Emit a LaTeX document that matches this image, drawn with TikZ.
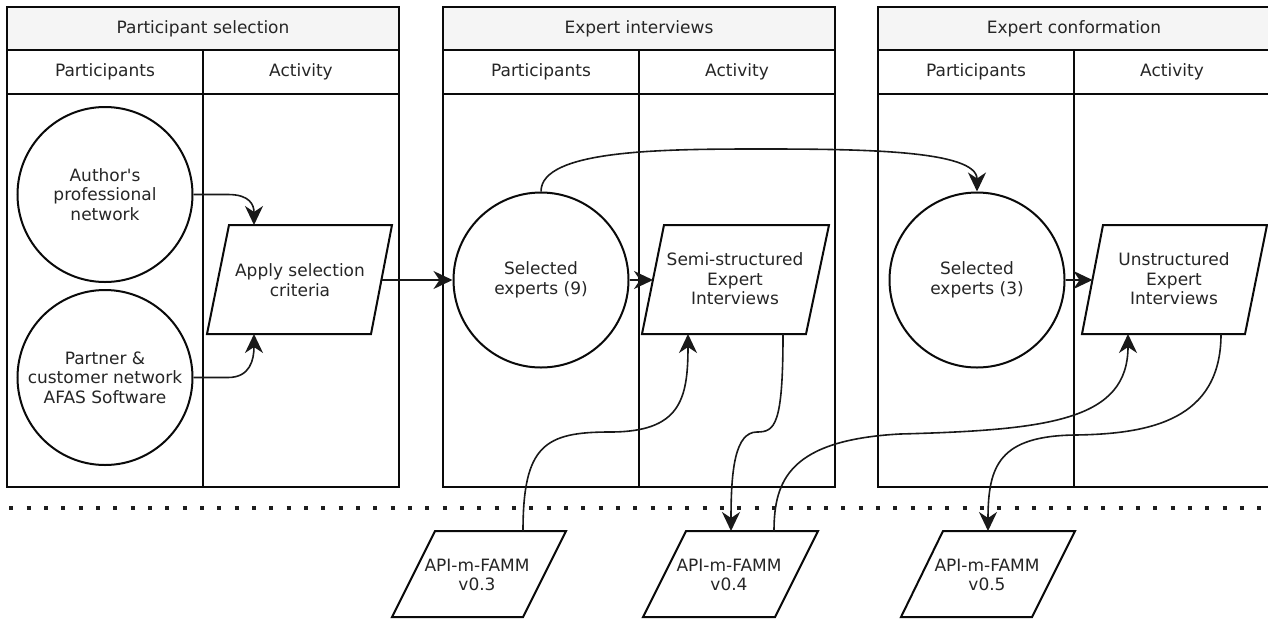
\documentclass[tikz,border=0pt]{standalone}
\usepackage{fontspec}
\setmainfont{DejaVu Sans}
\usetikzlibrary{arrows.meta,calc}
\definecolor{txt}{RGB}{38,38,38}
\definecolor{hdr}{RGB}{245,245,245}
\definecolor{ln}{RGB}{10,10,10}
\begin{document}
\begin{tikzpicture}[x=1pt,y=-1pt,
  pool/.style={draw=ln, line width=2pt},
  lbl/.style={align=center, font=\fontsize{17}{19.5}\selectfont, text=txt, inner sep=0pt},
  circ/.style={circle, draw=ln, line width=2pt, minimum size=175pt, inner sep=0pt, align=center, font=\fontsize{17}{19.5}\selectfont, text=txt},
  para/.style={draw=ln, line width=2pt, fill=white, line join=miter},
  conn/.style={draw={rgb,255:red,25;green,25;blue,25}, line width=1.6pt, -{Stealth[length=19pt,width=18pt,inset=6pt]}},
  dots/.style={draw={rgb,255:red,30;green,30;blue,30}, line width=4pt, dash pattern=on 4pt off 13.33pt}
]
\fill[white] (0,0) rectangle (1268,619);
\useasboundingbox (0,0) rectangle (1268,619);

% pools
\foreach \x/\t/\n in {7/Participant selection/pA, 443/Expert interviews/pB, 878/Expert conformation/pC} {
  \draw[pool, fill=hdr] (\x,7) rectangle ++(392,43);
  \draw[pool] (\x,50) rectangle ++(392,437);
  \draw[pool] (\x,94) -- ++(392,0);
  \draw[pool] (\x+196,50) -- (\x+196,487);
  \node[lbl] (\n title) at (\x+196,28.5) {\t};
  \node[lbl] (\n part) at (\x+98,72) {Participants};
  \node[lbl] (\n act) at (\x+294,72) {Activity};
}

% dotted separator
\coordinate (dotL) at (9.4,507.5);
\coordinate (dotR) at (1268,507.5);
\draw[dots] (dotL) -- (dotR);

% circles
\node[circ] (author) at (105,194.5) {Author\textquotesingle s\\professional\\network};
\node[circ] (partner) at (105,377.5) {Partner \&\\customer network\\AFAS Software};
\node[circ] (sel9) at (541,280) {Selected\\experts (9)};
\node[circ] (sel3) at (977,280) {Selected\\experts (3)};

% parallelograms
\draw[para] (229,225) -- (392,225) -- (371,334) -- (207,334) -- cycle;
\node[lbl] (apply) at (300,280) {Apply selection\\criteria};
\draw[para] (664,225) -- (829,225) -- (806,334) -- (642,334) -- cycle;
\node[lbl] (semi) at (735,279) {Semi-structured\\Expert\\Interviews};
\draw[para] (1103,225) -- (1267,225) -- (1245,334) -- (1082,334) -- cycle;
\node[lbl] (unst) at (1174,279) {Unstructured\\Expert\\Interviews};

\draw[para] (435,531) -- (566,531) -- (523,617) -- (392,617) -- cycle;
\node[lbl] (v3) at (477,575) {API-m-FAMM\\v0.3};
\draw[para] (686,531) -- (818,531) -- (775,617) -- (643,617) -- cycle;
\node[lbl] (v4) at (729,575) {API-m-FAMM\\v0.4};
\draw[para] (943,531) -- (1075,531) -- (1032,617) -- (901,617) -- cycle;
\node[lbl] (v5) at (987,575) {API-m-FAMM\\v0.5};

% connection points
\coordinate (applyT) at (254,225);
\coordinate (applyB) at (254,334);
\coordinate (applyR) at (381.5,280);
\coordinate (semiL) at (653,280);
\coordinate (semiB1) at (688,334);
\coordinate (semiB2) at (783,334);
\coordinate (unstL) at (1092.5,280);
\coordinate (unstB1) at (1128,334);
\coordinate (unstB2) at (1221,334);
\coordinate (v3T) at (523,531);
\coordinate (v4T1) at (731,531);
\coordinate (v4T2) at (774,531);
\coordinate (v5T) at (988,531);

% connectors
\draw[conn] (author.east) -- (228,194.5) .. controls (250,194.5) and (254,205) .. (applyT);
\draw[conn] (partner.east) -- (228,377.5) .. controls (250,377.5) and (254,360) .. (applyB);
\draw[conn] (applyR) -- (sel9.west);
\draw[conn] (sel9.east) -- (semiL);
\draw[conn] (sel9.north) .. controls (541,150) and (660,149) .. (760,149) .. controls (860,149) and (977,150) .. (sel3.north);
\draw[conn] (sel3.east) -- (unstL);
\draw[conn] (v3T) .. controls (523,445) and (545,432) .. (610,432) .. controls (680,432) and (688,400) .. (semiB1);
\draw[conn] (semiB2) .. controls (783,425) and (775,432) .. (757,432) .. controls (735,432) and (731,470) .. (v4T1);
\draw[conn] (v4T2) .. controls (774,480) and (790,440) .. (900,434) .. controls (1050,430) and (1128,420) .. (unstB1);
\draw[conn] (unstB2) .. controls (1221,420) and (1150,434) .. (1075,435) .. controls (1000,436) and (988,465) .. (v5T);
\end{tikzpicture}
\end{document}
